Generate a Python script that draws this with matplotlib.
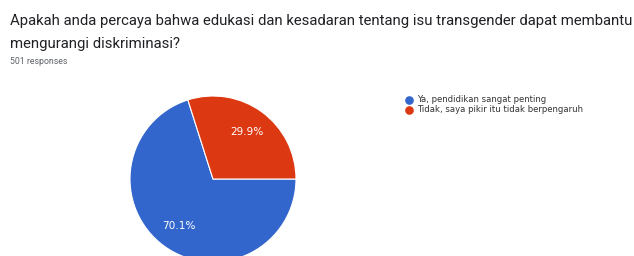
import matplotlib.pyplot as plt
from matplotlib.lines import Line2D

# data
labels = ['Ya, pendidikan sangat penting', 'Tidak, saya pikir itu tidak berpengaruh']
shares = [70.1, 29.9]
colors = ['#3366cc', '#dc3912']

title_lines = ['Apakah anda percaya bahwa edukasi dan kesadaran tentang isu transgender dapat membantu',
               'mengurangi diskriminasi?']
n_responses = 501

W, H = 634, 256
fig = plt.figure(figsize=(W / 100, H / 100), dpi=100)
fig.patch.set_facecolor('white')

# title + response count
fig.text(10 / W, 1 - 21 / H, title_lines[0], fontsize=10.75, family='Roboto',
         color='#202124', va='center', ha='left')
fig.text(10 / W, 1 - 44 / H, title_lines[1], fontsize=10.75, family='Roboto',
         color='#202124', va='center', ha='left')
fig.text(10 / W, 1 - 61 / H, f'{n_responses} responses', fontsize=6.3, family='Roboto',
         color='#5f6368', va='center', ha='left')

# pie: centre (213, 179) px, radius 83 px
cx, cy, r = 213, 179, 83
ax = fig.add_axes([(cx - r) / W, (H - cy - r) / H, 2 * r / W, 2 * r / H])
wedges, texts, autotexts = ax.pie(
    shares, colors=colors, startangle=360 * shares[1] / 100, counterclock=True,
    autopct='%.1f%%', pctdistance=0.7,
    wedgeprops=dict(edgecolor='white', linewidth=0.8),
    textprops=dict(color='white', fontsize=7.6, family='Arial'))
ax.set_xlim(-1, 1)
ax.set_ylim(-1, 1)
ax.set_aspect('equal')
ax.axis('off')

# legend
for i, (lab, col) in enumerate(zip(labels, colors)):
    y = 1 - (100 + 9.5 * i) / H
    fig.add_artist(Line2D([409 / W], [y], marker='o', markersize=5.2, color=col,
                          linestyle='none', transform=fig.transFigure))
    fig.text(417 / W, y, lab, color='#333333', fontsize=6.15, ha='left', va='center',
             family='Arial')

fig.savefig('out.png', dpi=100)
